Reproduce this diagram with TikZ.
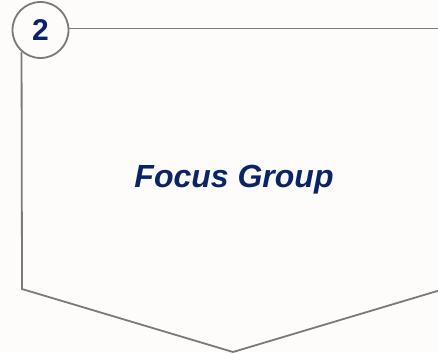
\documentclass[tikz,border=0pt]{standalone}
\usepackage{fontspec}
\setmainfont{Liberation Sans}
\definecolor{bg}{HTML}{FDFCFA}
\definecolor{edge}{HTML}{7A7A7A}
\definecolor{navy}{HTML}{0B2466}
\begin{document}
\begin{tikzpicture}[x=1pt,y=-1pt,
  outline/.style={draw=edge,line width=1.8pt,line join=miter},
  badge/.style={circle,outline,fill=bg,minimum size=56pt,inner sep=0pt,
    font=\fontsize{30}{34}\selectfont\bfseries,text=navy},
  title/.style={font=\fontsize{32}{38}\selectfont\bfseries\itshape,text=navy}]
\fill[bg] (0,0) rectangle (438,353);
\useasboundingbox (0,0) rectangle (438,353);
\clip (0,0) rectangle (438,353);
\coordinate (tr) at (445,28.5);
\coordinate (bl) at (22,289);
\coordinate (bot) at (233,352);
\coordinate (br) at (444,289);
\coordinate (brb) at (444,28.5);
\node[badge] (num) at (40.5,30) {2};
\draw[outline] (num.east |- tr) -- (tr);
\draw[outline] (num.229) -- (bl) -- (bot) -- (br) -- (brb);
\node[title] (lbl) at (234,180) {Focus Group};
\end{tikzpicture}
\end{document}
